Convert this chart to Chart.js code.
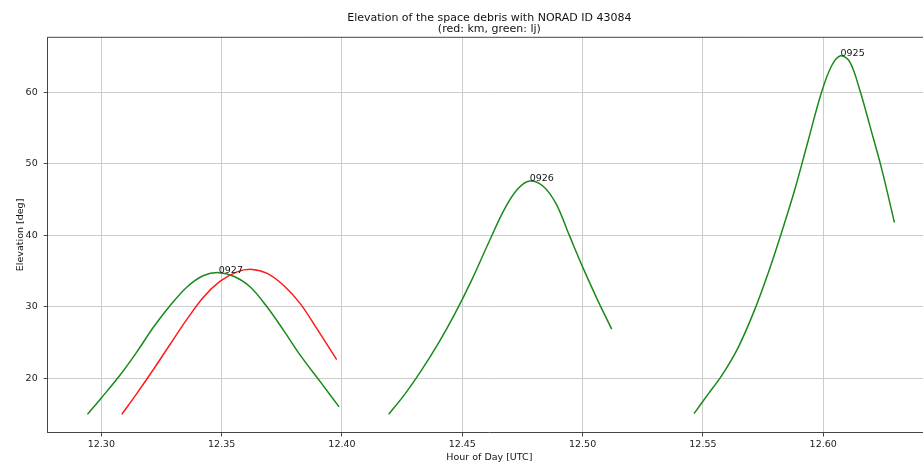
<!DOCTYPE html>
<html>
<head>
<meta charset="utf-8">
<script src="https://cdn.jsdelivr.net/npm/chart.js@4/dist/chart.umd.min.js"></script>
<style>
  html, body { margin: 0; padding: 0; overflow: hidden; background: #fff; }
</style>
</head>
<body>
<canvas id="chart" width="935" height="463"></canvas>
<script>
// pass 0927, red (km)
const redX = [12.3085, 12.3147, 12.3217, 12.3286, 12.3356, 12.3425, 12.3494, 12.3564, 12.3626, 12.3689, 12.3758, 12.3828, 12.3897, 12.3978];
const redY = [15.0, 17.9, 21.3, 24.8, 28.3, 31.4, 33.6, 34.9, 35.25, 34.7, 33.0, 30.4, 26.9, 22.65];

// green (lj) passes
const pass0927X = [12.2942, 12.3000, 12.3078, 12.3147, 12.3217, 12.3286, 12.3356, 12.3425, 12.3488, 12.3550, 12.3619, 12.3689, 12.3758, 12.3828, 12.3911, 12.3988];
const pass0927Y = [15.0, 17.3, 20.5, 23.7, 27.2, 30.2, 32.8, 34.4, 34.8, 34.3, 32.8, 30.0, 26.7, 23.2, 19.5, 16.05];
const pass0926X = [12.4194, 12.4263, 12.4332, 12.4401, 12.4470, 12.4539, 12.4607, 12.4676, 12.4731, 12.4780, 12.4835, 12.4890, 12.4945, 12.5000, 12.5062, 12.5121];
const pass0926Y = [15.0, 17.9, 21.25, 24.95, 29.1, 33.75, 38.8, 43.7, 46.5, 47.6, 46.9, 44.4, 40.0, 35.6, 31.0, 26.9];
const pass0925X = [12.5463, 12.5521, 12.5576, 12.5646, 12.5715, 12.5771, 12.5826, 12.5882, 12.5938, 12.5993, 12.6035, 12.6072, 12.6111, 12.6153, 12.6194, 12.6243, 12.6296];
const pass0925Y = [15.1, 17.8, 20.3, 24.3, 29.6, 34.7, 40.3, 46.4, 53.3, 60.0, 63.7, 65.1, 64.2, 60.2, 55.3, 49.3, 41.8];

const passLabels = ['0927', '0926', '0925'];
const xTicks = [12.30, 12.35, 12.40, 12.45, 12.50, 12.55, 12.60];
const yTicks = [20, 30, 40, 50, 60];

const toPoints = (xs, ys) => xs.map((x, i) => ({ x, y: ys[i] }));
const greens = [[pass0927X, pass0927Y], [pass0926X, pass0926Y], [pass0925X, pass0925Y]];

const FONT = "'DejaVu Sans', sans-serif";

const line = (data, color) => ({
  data,
  borderColor: color,
  borderWidth: 1.5,
  pointRadius: 0,
  showLine: true,
  fill: false,
  tension: 0.35,
});

const datasets = [line(toPoints(redX, redY), '#ff1a1a')];
greens.forEach(([xs, ys]) => datasets.push(line(toPoints(xs, ys), '#1a8a1a')));

const textPlugin = {
  id: 'texts',
  afterDraw(chart) {
    const { ctx, chartArea, scales } = chart;
    const cx = (chartArea.left + chartArea.right) / 2;
    ctx.save();
    // top spine
    ctx.strokeStyle = '#444';
    ctx.lineWidth = 1;
    ctx.beginPath();
    ctx.moveTo(chartArea.left, chartArea.top);
    ctx.lineTo(chartArea.right, chartArea.top);
    ctx.stroke();

    ctx.fillStyle = '#111';
    ctx.textAlign = 'center';
    ctx.textBaseline = 'alphabetic';
    ctx.font = '11px ' + FONT;
    ctx.fillText('Elevation of the space debris with NORAD ID 43084', cx, 21);
    ctx.fillText('(red: km, green: lj)', cx, 32);

    ctx.font = '9.5px ' + FONT;
    ctx.fillText('Hour of Day [UTC]', cx, 460);
    ctx.save();
    ctx.translate(23, (chartArea.top + chartArea.bottom) / 2);
    ctx.rotate(-Math.PI / 2);
    ctx.fillText('Elevation [deg]', 0, 0);
    ctx.restore();

    // pass labels at each green peak
    ctx.textAlign = 'left';
    greens.forEach(([xs, ys], i) => {
      const k = ys.indexOf(Math.max(...ys));
      ctx.fillText(passLabels[i], scales.x.getPixelForValue(xs[k]), scales.y.getPixelForValue(ys[k]));
    });
    ctx.restore();
  }
};

new Chart(document.getElementById('chart'), {
  type: 'scatter',
  data: { datasets },
  plugins: [textPlugin],
  options: {
    responsive: false,
    animation: false,
    layout: { padding: { left: 0, top: 37.3, right: 4, bottom: 0 } },
    plugins: { legend: { display: false }, tooltip: { enabled: false } },
    scales: {
      x: {
        type: 'linear',
        min: 12.2777,
        max: 12.6448,
        afterFit: (s) => { s.height = 30.5; },
        afterBuildTicks: (s) => { s.ticks = xTicks.map(v => ({ value: v })); },
        grid: { color: '#cccccc', lineWidth: 1, tickColor: '#444', tickLength: 4 },
        border: { color: '#444', width: 1 },
        ticks: { font: { family: FONT, size: 9.5 }, color: '#222', padding: 2, maxRotation: 0,
                 callback: (v) => Number(v).toFixed(2) },
      },
      y: {
        min: 12.47,
        max: 67.67,
        afterFit: (s) => { s.width = 47.7; },
        afterBuildTicks: (s) => { s.ticks = yTicks.map(v => ({ value: v })); },
        grid: { color: '#cccccc', lineWidth: 1, tickColor: '#444', tickLength: 4 },
        border: { color: '#444', width: 1 },
        ticks: { font: { family: FONT, size: 9.5 }, color: '#222', padding: 6,
                 callback: (v) => String(v) },
      },
    },
  },
});
</script>
</body>
</html>
